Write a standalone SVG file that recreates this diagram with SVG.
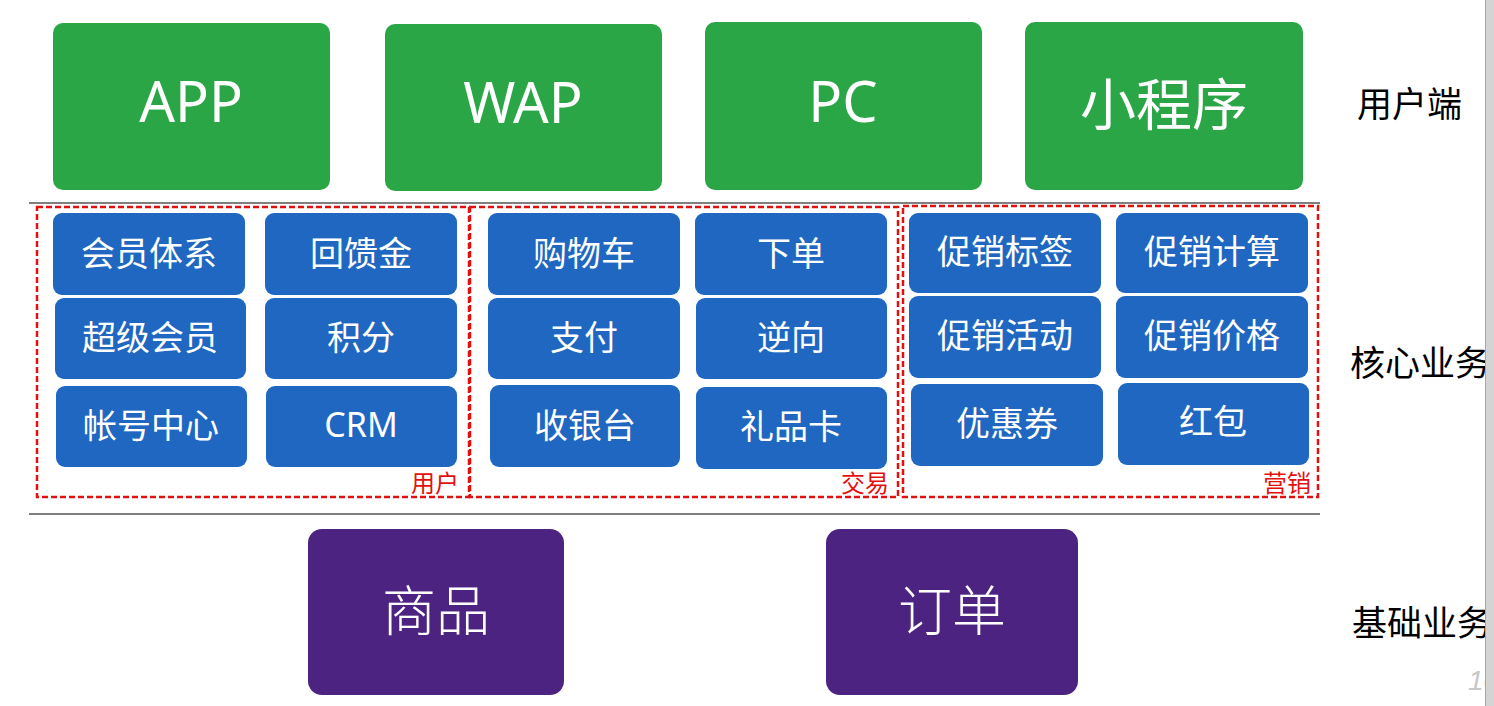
<svg xmlns="http://www.w3.org/2000/svg" width="1494" height="706" viewBox="0 0 1494 706">
<style>
.g{fill:#2ba647}
.b{fill:#1f67c1}
.p{fill:#4d2381}
.tg{font-family:"Noto Sans","Noto Sans CJK SC",sans-serif;font-size:56px;fill:#fff;text-anchor:middle}
.tb{font-family:"Noto Sans","Noto Sans CJK SC",sans-serif;font-size:34px;fill:#fff;text-anchor:middle}
.tp{font-family:"Noto Sans CJK SC",sans-serif;font-size:54px;fill:#fff;text-anchor:middle;font-weight:300}
.side{font-family:"Noto Sans CJK SC",sans-serif;font-size:35px;fill:#000}
.grp{fill:none;stroke:#e31010;stroke-width:2.5;stroke-dasharray:6 3}
.gl{font-family:"Noto Sans CJK SC",sans-serif;font-size:24px;fill:#e31010;text-anchor:end}
.sep{stroke:#7f7f7f;stroke-width:2}
</style>
<rect width="1494" height="706" fill="#fff"/>
<g id="connectors">
<line class="sep" x1="29" y1="203" x2="1320" y2="203"/>
<line class="sep" x1="29" y1="514" x2="1320" y2="514"/>
</g>
<g id="app"><rect class="g" x="53" y="23" width="277" height="167" rx="10"/><text class="tg" x="191" y="122">APP</text></g>
<g id="wap"><rect class="g" x="385" y="24" width="277" height="167" rx="10"/><text class="tg" x="523" y="123">WAP</text></g>
<g id="pc"><rect class="g" x="705" y="22" width="277" height="168" rx="10"/><text class="tg" x="843" y="122">PC</text></g>
<g id="mini"><rect class="g" x="1025" y="22" width="278" height="168" rx="10"/><text class="tg" x="1164" y="125">小程序</text></g>

<g id="grp-user"><rect class="grp" x="37" y="207" width="432" height="290"/><text class="gl" x="459" y="492">用户</text></g>
<g id="grp-trade"><rect class="grp" x="470" y="207" width="428" height="290"/><text class="gl" x="889" y="492">交易</text></g>
<g id="grp-mkt"><rect class="grp" x="903" y="206" width="415" height="291"/><text class="gl" x="1311" y="492">营销</text></g>

<g id="n1"><rect class="b" x="53" y="213" width="192" height="82" rx="9"/><text class="tb" x="149" y="266">会员体系</text></g>
<g id="n2"><rect class="b" x="265" y="213" width="192" height="82" rx="9"/><text class="tb" x="361" y="266">回馈金</text></g>
<g id="n3"><rect class="b" x="55" y="298" width="191" height="81" rx="9"/><text class="tb" x="150" y="350">超级会员</text></g>
<g id="n4"><rect class="b" x="265" y="298" width="192" height="81" rx="9"/><text class="tb" x="361" y="350">积分</text></g>
<g id="n5"><rect class="b" x="56" y="386" width="191" height="81" rx="9"/><text class="tb" x="151" y="438">帐号中心</text></g>
<g id="n6"><rect class="b" x="266" y="386" width="191" height="81" rx="9"/><text class="tb" x="361" y="437">CRM</text></g>

<g id="n7"><rect class="b" x="488" y="213" width="192" height="82" rx="9"/><text class="tb" x="584" y="266">购物车</text></g>
<g id="n8"><rect class="b" x="695" y="213" width="192" height="82" rx="9"/><text class="tb" x="791" y="266">下单</text></g>
<g id="n9"><rect class="b" x="488" y="298" width="192" height="81" rx="9"/><text class="tb" x="584" y="350">支付</text></g>
<g id="n10"><rect class="b" x="696" y="298" width="191" height="81" rx="9"/><text class="tb" x="791" y="350">逆向</text></g>
<g id="n11"><rect class="b" x="490" y="385" width="190" height="82" rx="9"/><text class="tb" x="585" y="438">收银台</text></g>
<g id="n12"><rect class="b" x="696" y="387" width="191" height="82" rx="9"/><text class="tb" x="791" y="439">礼品卡</text></g>

<g id="n13"><rect class="b" x="909" y="213" width="192" height="80" rx="9"/><text class="tb" x="1005" y="264">促销标签</text></g>
<g id="n14"><rect class="b" x="1116" y="213" width="192" height="80" rx="9"/><text class="tb" x="1212" y="264">促销计算</text></g>
<g id="n15"><rect class="b" x="909" y="296" width="192" height="82" rx="9"/><text class="tb" x="1005" y="348">促销活动</text></g>
<g id="n16"><rect class="b" x="1116" y="296" width="192" height="82" rx="9"/><text class="tb" x="1212" y="348">促销价格</text></g>
<g id="n17"><rect class="b" x="911" y="384" width="192" height="82" rx="9"/><text class="tb" x="1007" y="436">优惠券</text></g>
<g id="n18"><rect class="b" x="1118" y="383" width="191" height="82" rx="9"/><text class="tb" x="1213" y="434">红包</text></g>

<g id="goods"><rect class="p" x="308" y="529" width="256" height="166" rx="14"/><text class="tp" x="436" y="631">商品</text></g>
<g id="order"><rect class="p" x="826" y="529" width="252" height="166" rx="14"/><text class="tp" x="952" y="631">订单</text></g>

<g id="labels">
<text class="side" x="1357" y="117">用户端</text>
<text class="side" x="1350" y="376">核心业务</text>
<text class="side" x="1352" y="636">基础业务</text>
<text x="1468" y="690" font-family="Liberation Sans,sans-serif" font-style="italic" font-size="28" fill="#c8c8c8">10</text>
</g>
<rect x="1485" y="0" width="9" height="706" fill="#d4d4d4"/>
<line x1="1485.5" y1="0" x2="1485.5" y2="706" stroke="#a8a8a8" stroke-width="1"/>
</svg>
